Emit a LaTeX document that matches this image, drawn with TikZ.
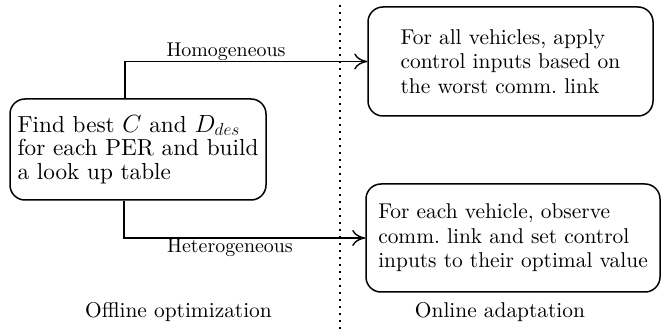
\documentclass[tikz,border=0pt]{standalone}
\usepackage{fontspec}
\setmainfont{lmroman10-regular.otf}[ItalicFont=lmroman10-italic.otf,BoldFont=lmroman10-bold.otf]
\usetikzlibrary{arrows.meta}
\begin{document}
\begin{tikzpicture}[x=1pt,y=-1pt,
  box/.style={draw,line width=1.5pt,rounded corners=15pt,align=left,inner sep=0pt},
  conn/.style={line width=1.4pt,-{Computer Modern Rightarrow[length=13pt,width=16pt,line width=1.4pt]}},
  mainfont/.style={font=\fontsize{21.4}{24.5}\selectfont},
  lblfont/.style={font=\fontsize{19.9}{22}\selectfont}]
\useasboundingbox (0,0) rectangle (670,331);
\node[box,font=\fontsize{23.2}{23.5}\selectfont,minimum width=256pt,minimum height=101pt] (lbox) at (138,149.5)
  {Find best $C$ and $D_{des}$\\for each PER and build\\a look up table\vphantom{$D_{des}$}};
\node[box,mainfont,minimum width=285pt,minimum height=109pt] (tbox) at (510.5,61.5)
  {For all vehicles, apply\\control inputs based on\\the worst comm.\ link};
\node[box,mainfont,minimum width=294pt,minimum height=108pt] (bbox) at (513,238)
  {For each vehicle, observe\\comm.\ link and set control\\inputs to their optimal value};
\coordinate (dtop) at (340,5);
\coordinate (dbot) at (340,331);
\draw[line width=2pt,dash pattern=on 2pt off 5pt] (dtop) -- (dbot);
\draw[conn] ([xshift=-13pt]lbox.north) |- (tbox.west);
\draw[conn] ([xshift=-14pt]lbox.south) |- (bbox.west);
\node[lblfont] (hom) at (226,52) {Homogeneous};
\node[lblfont] (het) at (230,248) {Heterogeneous};
\node[mainfont] (off) at (178.5,312) {Offline optimization};
\node[mainfont] (on) at (500,312) {Online adaptation};
\end{tikzpicture}
\end{document}
